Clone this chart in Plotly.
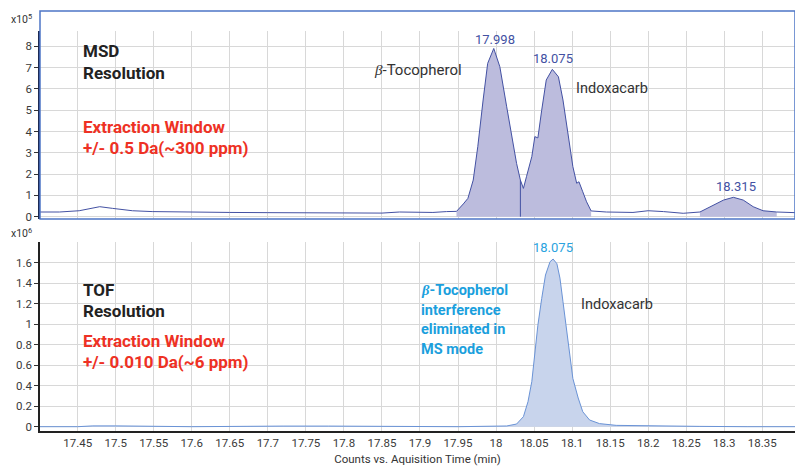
import plotly.graph_objects as go
import numpy as np

# ---------------- DATA ----------------
# MSD trace (counts x10^5)
msd_time = [17.400, 17.426, 17.452, 17.466, 17.479, 17.496, 17.509, 17.522, 17.548, 17.600,
            17.650, 17.700, 17.750, 17.800, 17.850, 17.873, 17.917, 17.935, 17.948, 17.957,
            17.963, 17.970, 17.976, 17.983, 17.989, 17.997, 18.005, 18.014, 18.020, 18.027,
            18.032, 18.036, 18.040, 18.047, 18.051, 18.055, 18.060, 18.066, 18.074, 18.082,
            18.088, 18.095, 18.101, 18.106, 18.109, 18.114, 18.119, 18.125, 18.145, 18.180,
            18.200, 18.220, 18.246, 18.268, 18.286, 18.299, 18.312, 18.325, 18.338, 18.351,
            18.369, 18.382, 18.393]
msd_counts = [0.22, 0.22, 0.28, 0.39, 0.47, 0.39, 0.35, 0.28, 0.24, 0.21,
              0.20, 0.19, 0.19, 0.16, 0.17, 0.22, 0.20, 0.24, 0.25, 0.60,
              0.86, 1.72, 3.29, 5.48, 7.20, 7.90, 7.04, 5.16, 3.90, 2.50,
              1.72, 1.33, 1.88, 2.82, 3.76, 3.70, 5.00, 6.42, 6.92, 6.57,
              5.48, 3.90, 2.35, 1.57, 1.64, 1.17, 0.70, 0.27, 0.22, 0.20,
              0.28, 0.24, 0.16, 0.22, 0.55, 0.78, 0.91, 0.78, 0.47, 0.28,
              0.22, 0.19, 0.19]
msd_peak_windows = [(17.948, 18.125), (18.268, 18.369)]
msd_split_time = 18.032
msd_peak_labels = ["17.998", "18.075", "18.315"]
msd_peak_times = [17.998, 18.075, 18.315]

# TOF trace (counts x10^6)
tof_time = [17.400, 17.450, 17.470, 17.500, 17.600, 17.700, 17.720, 17.780, 17.873, 17.950,
            18.014, 18.027, 18.036, 18.042, 18.047, 18.051, 18.055, 18.060, 18.065, 18.071,
            18.075, 18.080, 18.084, 18.088, 18.093, 18.097, 18.101, 18.108, 18.114, 18.123,
            18.136, 18.158, 18.202, 18.268, 18.330, 18.393]
tof_counts = [0.0, 0.0, 0.008, 0.008, 0.0, 0.008, 0.006, 0.006, 0.0, 0.0,
              0.007, 0.026, 0.098, 0.244, 0.44, 0.70, 0.99, 1.25, 1.48, 1.61,
              1.636, 1.59, 1.45, 1.22, 0.93, 0.67, 0.47, 0.28, 0.146, 0.065,
              0.030, 0.013, 0.007, 0.003, 0.0, 0.0]

x_ticks = [17.45, 17.5, 17.55, 17.6, 17.65, 17.7, 17.75, 17.8, 17.85, 17.9, 17.95,
           18.0, 18.05, 18.1, 18.15, 18.2, 18.25, 18.3, 18.35]
x_tick_text = ["17.45", "17.5", "17.55", "17.6", "17.65", "17.7", "17.75", "17.8", "17.85",
               "17.9", "17.95", "18", "18.05", "18.1", "18.15", "18.2", "18.25", "18.3", "18.35"]
msd_y_ticks = [0, 1, 2, 3, 4, 5, 6, 7, 8]
tof_y_ticks = [0, 0.2, 0.4, 0.6, 0.8, 1.0, 1.2, 1.4, 1.6]

# ---------------- STYLE ----------------
FONT = "Roboto, Arial, sans-serif"
MSD_LINE = "#4351a3"
MSD_FILL = "#bcbcdd"
TOF_LINE = "#6a93d6"
TOF_FILL = "#c8d4ec"
RED = "#ee3124"
CYAN = "#1b9fdd"
GRID = "#d8d8d8"
FRAME = "#4d76c6"

W, H = 795, 466
ML, MB = 40, 35
PH = H - MB  # plot area height in px


def py(ypix):
    return (PH - ypix) / PH


def px(xpix):
    return (xpix - ML) / (W - ML)


fig = go.Figure()

mt = np.array(msd_time)
mc = np.array(msd_counts)

# filled peak regions (MSD)
for lo, hi in msd_peak_windows:
    m = (mt >= lo) & (mt <= hi)
    fig.add_trace(go.Scatter(x=mt[m], y=mc[m], mode="lines", line=dict(width=0, color=MSD_LINE),
                             fill="tozeroy", fillcolor=MSD_FILL, xaxis="x", yaxis="y",
                             hoverinfo="skip", showlegend=False))
# full MSD line
fig.add_trace(go.Scatter(x=mt, y=mc, mode="lines", line=dict(width=1, color=MSD_LINE),
                         xaxis="x", yaxis="y", showlegend=False))
# split drop line
split_val = float(np.interp(msd_split_time, mt, mc))
fig.add_trace(go.Scatter(x=[msd_split_time, msd_split_time], y=[0, split_val], mode="lines",
                         line=dict(width=1, color=MSD_LINE), xaxis="x", yaxis="y",
                         showlegend=False))

# TOF
fig.add_trace(go.Scatter(x=tof_time, y=tof_counts, mode="lines",
                         line=dict(width=1, color=TOF_LINE), fill="tozeroy", fillcolor=TOF_FILL,
                         xaxis="x2", yaxis="y2", showlegend=False))

xrange = [17.4005, 18.393]
top_dom = [py(219), py(31)]
bot_dom = [0, py(241.7)]

axis_font = dict(family=FONT, size=11.5, color="#3a3a3a")

fig.update_layout(
    width=W, height=H,
    margin=dict(l=ML, r=0, t=0, b=MB),
    paper_bgcolor="white", plot_bgcolor="white",
    font=dict(family=FONT, color="#333333"),
    xaxis=dict(domain=[0, 1], range=xrange, anchor="y", tickvals=x_ticks, showticklabels=False,
               showgrid=True, gridcolor=GRID, gridwidth=1, zeroline=False, showline=False,
               ticks=""),
    yaxis=dict(domain=top_dom, range=[-0.108, 8.72], anchor="x", tickvals=msd_y_ticks,
               showgrid=True, gridcolor=GRID, zeroline=False, showline=True, linecolor="#1c2a55",
               linewidth=1.5, ticks="outside", ticklen=4, tickcolor="#333", tickfont=axis_font),
    xaxis2=dict(domain=[0, 1], range=xrange, anchor="y2", tickvals=x_ticks, ticktext=x_tick_text,
                showgrid=True, gridcolor=GRID, zeroline=False, showline=True, linecolor="#222",
                linewidth=1.5, ticks="", tickfont=axis_font,
                title=dict(text="Counts vs. Aquisition Time (min)",
                           font=dict(family=FONT, size=11.5, color="#333"), standoff=7)),
    yaxis2=dict(domain=bot_dom, range=[-0.042, 1.805], anchor="x2", tickvals=tof_y_ticks,
                showgrid=True, gridcolor=GRID, zeroline=False, showline=True, linecolor="#222",
                linewidth=1.5, ticks="outside", ticklen=4, tickcolor="#333", tickfont=axis_font),
)

# frame around top panel
fig.add_shape(type="rect", xref="paper", yref="paper", x0=0, x1=1, y0=py(219), y1=py(11),
              line=dict(color=FRAME, width=1.5), fillcolor="rgba(0,0,0,0)", layer="above")

ann = []


def add_text(text, xp, yp, size, color, bold=False, xanchor="left", yanchor="middle"):
    ann.append(dict(text=("<b>%s</b>" % text) if bold else text, xref="paper", yref="paper",
                    x=px(xp), y=py(yp), showarrow=False, xanchor=xanchor, yanchor=yanchor,
                    align="left", font=dict(family=FONT, size=size, color=color)))


add_text("x10<sup>5</sup>", 9, 19, 10.5, "#333")
add_text("x10<sup>6</sup>", 9, 233, 10.5, "#333")

add_text("MSD", 81, 51, 17, "#222", bold=True)
add_text("Resolution", 81, 73, 17, "#222", bold=True)
add_text("Extraction Window", 81, 127, 17, RED, bold=True)
add_text("+/- 0.5 Da(~300 ppm)", 81, 148, 17, RED, bold=True)

add_text("TOF", 81, 290, 17, "#222", bold=True)
add_text("Resolution", 81, 311, 17, "#222", bold=True)
add_text("Extraction Window", 81, 341, 17, RED, bold=True)
add_text("+/- 0.010 Da(~6 ppm)", 81, 362, 17, RED, bold=True)

beta = "<i><span style='font-family:Liberation Serif, serif'>β</span></i>"
add_text(beta + "-Tocopherol", 372, 70, 15, "#333")
add_text("Indoxacarb", 574, 88, 14.5, "#333")
add_text("Indoxacarb", 579, 304, 14.5, "#333")

for line_text, yp in zip([beta + "-Tocopherol", "interference", "eliminated in", "MS mode"],
                         [290, 310, 329, 349]):
    add_text(line_text, 419, yp, 14.5, CYAN, bold=True)

# peak labels, anchored to data
for lbl, t in zip(msd_peak_labels, msd_peak_times):
    v = float(np.interp(t, mt, mc))
    ann.append(dict(text=lbl, x=t, y=v, xref="x", yref="y", showarrow=False, yanchor="bottom",
                    yshift=2, font=dict(family=FONT, size=13, color=MSD_LINE)))
ti = int(np.argmax(tof_counts))
ann.append(dict(text="18.075", x=tof_time[ti], y=tof_counts[ti], xref="x2", yref="y2",
                showarrow=False, yanchor="bottom", yshift=2,
                font=dict(family=FONT, size=13, color="#2aa3e0")))

fig.update_layout(annotations=ann)
fig.write_html("out.html")
